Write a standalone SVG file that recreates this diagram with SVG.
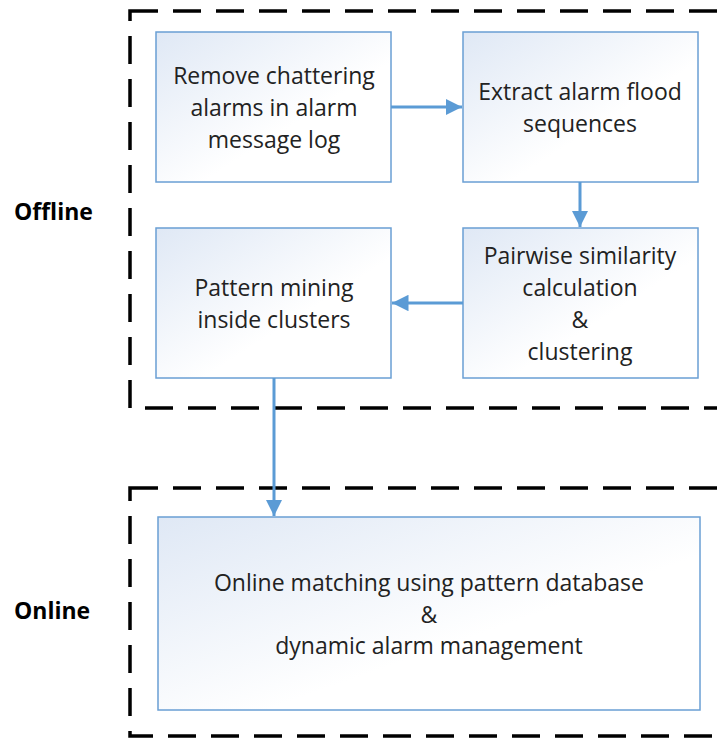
<svg xmlns="http://www.w3.org/2000/svg" width="717" height="738" viewBox="0 0 717 738">
  <defs>
    <linearGradient id="boxFill" x1="0" y1="0" x2="1" y2="1">
      <stop offset="0" stop-color="#dfe8f5"/>
      <stop offset="0.6" stop-color="#ffffff"/>
      <stop offset="1" stop-color="#ffffff"/>
    </linearGradient>
    <marker id="arrow" viewBox="0 0 10 10" refX="10" refY="5" markerWidth="5.5" markerHeight="5.5" markerUnits="strokeWidth" orient="auto">
      <path d="M0,0 L10,5 L0,10 z" fill="#5b9bd5"/>
    </marker>
    <style>
      .stage { fill: none; stroke: #000; stroke-width: 3.5; stroke-dasharray: 28 15; }
      .box { fill: url(#boxFill); stroke: #6a9fd4; stroke-width: 1.5; }
      .label { font-family: "Open Sans", "Liberation Sans", sans-serif; font-size: 23px; fill: #222; text-anchor: middle; }
      .phase { font-family: "Open Sans", "Liberation Sans", sans-serif; font-size: 23px; font-weight: bold; fill: #000; }
      .link { fill: none; stroke: #5b9bd5; stroke-width: 3; marker-end: url(#arrow); }
    </style>
  </defs>
  <rect width="717" height="738" fill="#ffffff"/>

  <!-- stage frames -->
  <g id="offline-stage">
    <rect class="stage" x="130" y="11" width="640" height="397"/>
    <text class="phase" x="14" y="220">Offline</text>
  </g>
  <g id="online-stage">
    <rect class="stage" x="130" y="488" width="640" height="248"/>
    <text class="phase" x="14" y="619">Online</text>
  </g>

  <!-- process steps -->
  <g id="remove-chattering">
    <rect class="box" x="156" y="32" width="235" height="150"/>
    <text class="label" x="274" y="84">Remove chattering</text>
    <text class="label" x="274" y="116">alarms in alarm</text>
    <text class="label" x="274" y="148">message log</text>
  </g>
  <g id="extract-floods">
    <rect class="box" x="463" y="32" width="235" height="150"/>
    <text class="label" x="580" y="100">Extract alarm flood</text>
    <text class="label" x="580" y="132">sequences</text>
  </g>
  <g id="pattern-mining">
    <rect class="box" x="156" y="228" width="235" height="150"/>
    <text class="label" x="274" y="296">Pattern mining</text>
    <text class="label" x="274" y="328">inside clusters</text>
  </g>
  <g id="similarity-clustering">
    <rect class="box" x="463" y="228" width="235" height="150"/>
    <text class="label" x="580" y="264">Pairwise similarity</text>
    <text class="label" x="580" y="296">calculation</text>
    <text class="label" x="580" y="328">&amp;</text>
    <text class="label" x="580" y="360">clustering</text>
  </g>
  <g id="online-matching">
    <rect class="box" x="158" y="517" width="542" height="193"/>
    <text class="label" x="429" y="591">Online matching using pattern database</text>
    <text class="label" x="429" y="623">&amp;</text>
    <text class="label" x="429" y="654">dynamic alarm management</text>
  </g>

  <!-- connectors -->
  <g id="connectors">
    <line class="link" x1="391" y1="107" x2="462" y2="107"/>
    <line class="link" x1="580" y1="182" x2="580" y2="227"/>
    <line class="link" x1="463" y1="303" x2="392" y2="303"/>
    <line class="link" x1="274" y1="378" x2="274" y2="516"/>
  </g>
</svg>
